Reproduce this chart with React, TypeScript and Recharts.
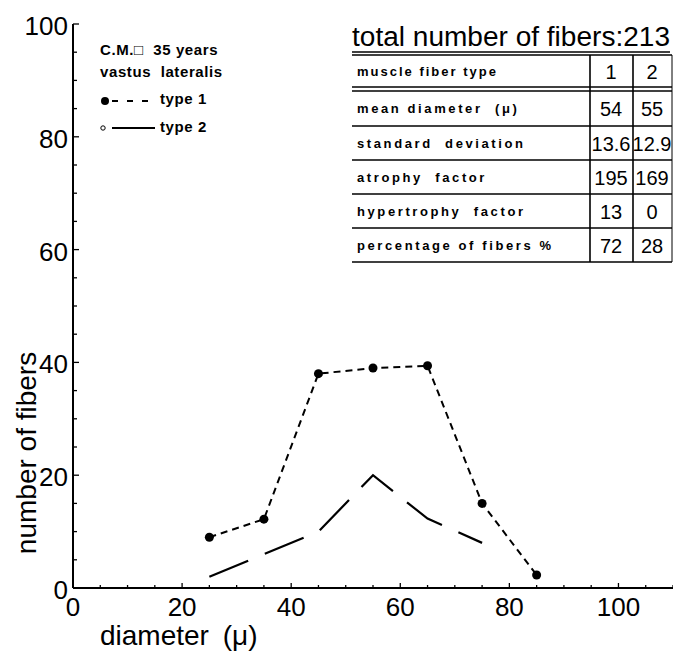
import React from 'react';
import { LineChart, Line, XAxis, YAxis } from 'recharts';

// ---- data ----
const diameters = [25, 35, 45, 55, 65, 75, 85];
const type1Counts = [9, 12.2, 38, 39, 39.4, 15, 2.3];
const type2Counts = [2, 6, 10, 20, 12.3, 8, null];

const xTicks = [0, 5, 10, 15, 20, 25, 30, 35, 40, 45, 50, 55, 60, 65, 70, 75, 80, 85, 90, 95, 100, 105, 110];
const xLabelTicks = [0, 20, 40, 60, 80, 100];
const yTicks = [0, 5, 10, 15, 20, 25, 30, 35, 40, 45, 50, 55, 60, 65, 70, 75, 80, 85, 90, 95, 100];
const yLabelTicks = [0, 20, 40, 60, 80, 100];

const xTitle = 'diameter (μ)';
const yTitle = 'number of fibers';

const legendHeader = ['C.M.□  35 years', 'vastus  lateralis'];
const seriesNames = ['type 1', 'type 2'];

const tableTitle = 'total number of fibers:';
const totalFibers = '213';
const tableHeader = ['muscle fiber type', '1', '2'];
const rowLabels = ['mean diameter  (μ)', 'standard  deviation', 'atrophy  factor', 'hypertrophy  factor', 'percentage of fibers %'];
const type1Stats = ['54', '13.6', '195', '13', '72'];
const type2Stats = ['55', '12.9', '169', '0', '28'];

const data = diameters.map((d, i) => ({ d, t1: type1Counts[i], t2: type2Counts[i] }));

const FONT = '"Liberation Sans", Arial, Helvetica, sans-serif';
const PRE = { whiteSpace: 'pre' as const };

const YTick = (props: any) => {
  const { x, y, payload } = props;
  const major = yLabelTicks.includes(payload.value);
  return (
    <g>
      <line x1={x} y1={y} x2={x + (major ? 6 : 4)} y2={y} stroke="#000" strokeWidth={1.3} />
      {major && (
        <text x={x - 5} y={y + 2} textAnchor="end" dominantBaseline="central" fontSize={26} fontFamily={FONT} fill="#000">
          {payload.value}
        </text>
      )}
    </g>
  );
};

const XTick = (props: any) => {
  const { x, y, payload } = props;
  const major = xLabelTicks.includes(payload.value);
  return (
    <g>
      <line x1={x} y1={y} x2={x} y2={y - (major ? 5 : 3)} stroke="#000" strokeWidth={1.3} />
      {major && (
        <text x={x} y={y + 19} textAnchor="middle" dominantBaseline="central" fontSize={26} fontFamily={FONT} fill="#000">
          {payload.value}
        </text>
      )}
    </g>
  );
};

const rowTop = [91, 126, 160, 194, 228];
const rowH = 34;

export default function App() {
  return (
    <div style={{ position: 'absolute', left: 0, top: 0, width: 673, height: 651, background: '#fff' }}>
      <LineChart width={673} height={651} data={data} margin={{ top: 24, right: 0, bottom: 0, left: 0 }}>
        <XAxis
          dataKey="d"
          type="number"
          domain={[0, 110]}
          ticks={xTicks}
          interval={0}
          height={63}
          tickSize={0}
          tickMargin={0}
          axisLine={{ stroke: '#000', strokeWidth: 2 }}
          tick={<XTick />}
        />
        <YAxis
          type="number"
          domain={[0, 100]}
          ticks={yTicks}
          interval={0}
          width={73}
          tickSize={0}
          tickMargin={0}
          axisLine={{ stroke: '#000', strokeWidth: 2 }}
          tick={<YTick />}
        />
        <Line
          dataKey="t1"
          type="linear"
          stroke="#000"
          strokeWidth={2}
          strokeDasharray="7 5"
          dot={{ r: 4.5, fill: '#000', stroke: '#000', strokeWidth: 0 }}
          isAnimationActive={false}
        />
        <Line
          dataKey="t2"
          type="linear"
          stroke="#000"
          strokeWidth={2.2}
          strokeDasharray="42 18"
          dot={false}
          isAnimationActive={false}
        />
      </LineChart>

      <svg
        width={673}
        height={651}
        style={{ position: 'absolute', left: 0, top: 0, pointerEvents: 'none' }}
        fontFamily={FONT}
      >
        {/* axis titles */}
        <text x={100} y={645} fontSize={28} wordSpacing={6} fill="#000">
          {xTitle}
        </text>
        <text
          x={26}
          y={453}
          fontSize={28}
          fill="#000"
          textAnchor="middle"
          dominantBaseline="central"
          transform="rotate(-90 26 453)"
        >
          {yTitle}
        </text>

        {/* legend */}
        <g fontWeight="bold" fontSize={15} fill="#000" letterSpacing={0.6}>
          <text x={100} y={55} xmlSpace="preserve" style={PRE}>{legendHeader[0]}</text>
          <text x={100} y={77} xmlSpace="preserve" style={PRE}>{legendHeader[1]}</text>
          <circle cx={105} cy={101} r={4} fill="#000" />
          <line x1={112} y1={101} x2={155} y2={101} stroke="#000" strokeWidth={2} strokeDasharray="6 9" />
          <text x={160} y={104}>{seriesNames[0]}</text>
          <circle cx={103} cy={128} r={2.2} fill="none" stroke="#000" strokeWidth={1} />
          <line x1={112} y1={128} x2={155} y2={128} stroke="#000" strokeWidth={2} />
          <text x={160} y={132}>{seriesNames[1]}</text>
        </g>

        {/* table */}
        <text x={352} y={46} fontSize={27} fill="#000" textLength={318} lengthAdjust="spacingAndGlyphs">
          {tableTitle}
          <tspan>{totalFibers}</tspan>
        </text>
        <g stroke="#000">
          <line x1={352} y1={52} x2={670} y2={52} strokeWidth={1.5} />
          <line x1={352} y1={55} x2={672} y2={55} strokeWidth={1.5} />
          <line x1={352} y1={87} x2={672} y2={87} strokeWidth={1.5} />
          {rowTop.map((t, i) => (
            <line key={'h' + i} x1={352} y1={t} x2={672} y2={t} strokeWidth={1.5} />
          ))}
          <line x1={352} y1={262} x2={672} y2={262} strokeWidth={1.5} />
          <line x1={590} y1={55} x2={590} y2={262} strokeWidth={1.6} />
          <line x1={633} y1={55} x2={633} y2={262} strokeWidth={1.6} />
          <line x1={672} y1={55} x2={672} y2={262} strokeWidth={1} />
        </g>
        <g fill="#000">
          <text x={357} y={71} fontSize={13} fontWeight="bold" letterSpacing={2} dominantBaseline="central">
            {tableHeader[0]}
          </text>
          <text x={611} y={72} fontSize={20} textAnchor="middle" dominantBaseline="central">
            {tableHeader[1]}
          </text>
          <text x={652} y={72} fontSize={20} textAnchor="middle" dominantBaseline="central">
            {tableHeader[2]}
          </text>
          {rowLabels.map((lab, i) => (
            <g key={'r' + i}>
              <text
                x={357}
                y={rowTop[i] + rowH / 2}
                fontSize={13}
                fontWeight="bold"
                letterSpacing={2.6}
                dominantBaseline="central"
                xmlSpace="preserve"
                style={PRE}
              >
                {lab}
              </text>
              <text x={611} y={rowTop[i] + rowH / 2 + 1} fontSize={20} textAnchor="middle" dominantBaseline="central">
                {type1Stats[i]}
              </text>
              <text x={652} y={rowTop[i] + rowH / 2 + 1} fontSize={20} textAnchor="middle" dominantBaseline="central">
                {type2Stats[i]}
              </text>
            </g>
          ))}
        </g>
      </svg>
    </div>
  );
}
